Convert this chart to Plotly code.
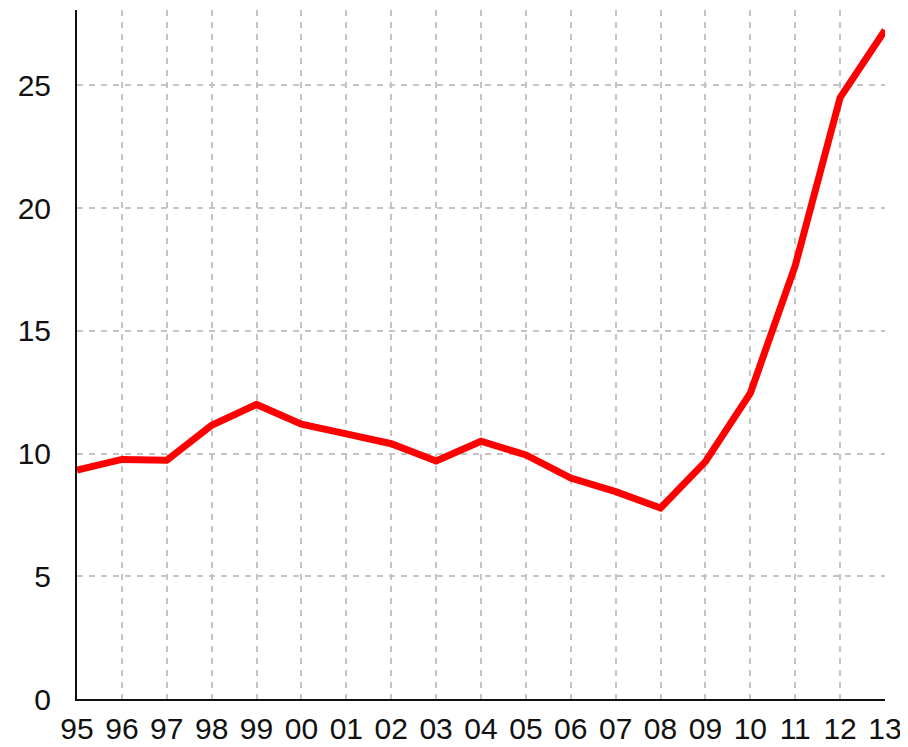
import plotly.graph_objects as go

years = ["95", "96", "97", "98", "99", "00", "01", "02", "03", "04",
         "05", "06", "07", "08", "09", "10", "11", "12", "13"]
values = [9.33, 9.76, 9.73, 11.15, 12.0, 11.2, 10.8, 10.4, 9.7, 10.5,
          9.94, 9.0, 8.45, 7.78, 9.67, 12.46, 17.65, 24.5, 27.25]
y_ticks = [0, 5, 10, 15, 20, 25]

fig = go.Figure()
fig.add_trace(go.Scatter(
    x=list(range(len(years))), y=values, mode="lines",
    line=dict(color="#ff0000", width=7),
    hoverinfo="skip", cliponaxis=False,
))

font = dict(family="Liberation Sans, Arial, sans-serif", size=30, color="#111111")
# the page body adds an 8px offset, so the figure is 900x739
fig.update_layout(
    width=900, height=739,
    margin=dict(l=69, r=23, t=2, b=48, autoexpand=False),
    paper_bgcolor="white", plot_bgcolor="white",
    showlegend=False,
    xaxis=dict(
        range=[0, len(years) - 1], automargin=False,
        tickmode="array", tickvals=list(range(len(years))), ticktext=years,
        showgrid=True, gridcolor="#c4c4c4", gridwidth=1.5, griddash="6px,6px",
        showline=True, linecolor="#111111", linewidth=2,
        zeroline=False, ticks="", tickfont=font, ticklabelstandoff=2,
        fixedrange=True,
    ),
    yaxis=dict(
        range=[0, 28.07], automargin=False,
        tickmode="array", tickvals=y_ticks,
        showgrid=True, gridcolor="#c4c4c4", gridwidth=1.5, griddash="6px,6px",
        showline=True, linecolor="#111111", linewidth=2,
        zeroline=False, ticks="", tickfont=font, ticklabelstandoff=18,
        fixedrange=True,
    ),
)
fig.write_html("out.html")
